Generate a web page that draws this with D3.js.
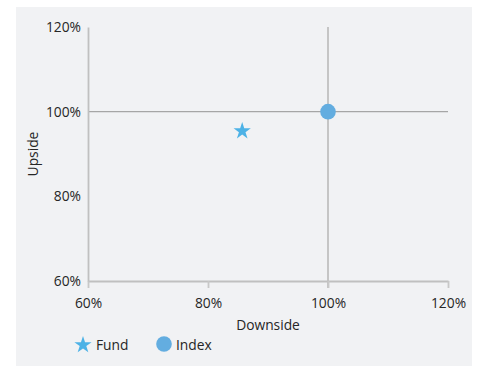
<!DOCTYPE html>
<html>
<head>
<meta charset="utf-8">
<script src="https://cdn.jsdelivr.net/npm/d3@7"></script>
<style>
html,body{margin:0;padding:0;background:#fff;}
svg{display:block;}
text{font-family:"Open Sans",sans-serif;fill:#262626;}
</style>
</head>
<body>
<script>
const seriesNames = ["Fund", "Index"];
const downside = [85.7, 100];
const upside = [95.4, 100];
const xTicks = [60, 80, 100, 120];
const yTicks = [60, 80, 100, 120];
const xTitle = "Downside";
const yTitle = "Upside";

const W = 478, H = 366;
const FS = 13.8;
const svg = d3.select("body").append("svg").attr("width", W).attr("height", H);

svg.append("rect").attr("x", 16).attr("y", 7).attr("width", 456).attr("height", 359).attr("fill", "#f1f2f4");

const x = d3.scaleLinear().domain([60, 120]).range([88, 448]);
const y = d3.scaleLinear().domain([60, 120]).range([281, 27]);

// reference lines at 100%
svg.append("line").attr("x1", x(60)).attr("x2", x(120)).attr("y1", y(100)).attr("y2", y(100))
  .attr("stroke", "#a6a6a6").attr("stroke-width", 1.2);
svg.append("line").attr("x1", x(100)).attr("x2", x(100)).attr("y1", y(120)).attr("y2", y(60) + 7)
  .attr("stroke", "#c0c0c0").attr("stroke-width", 1.8);

// x axis
const xAxis = d3.axisBottom(x).tickValues(xTicks).tickFormat(d => d + "%").tickSize(7).tickSizeOuter(0).tickPadding(10);
const gx = svg.append("g").attr("transform", `translate(0,${y(60)})`).call(xAxis);
gx.select(".domain").attr("stroke", "#c0c0c0").attr("stroke-width", 1.8);
gx.selectAll(".tick line").attr("stroke", "#c8c8c8").attr("stroke-width", 1.8);
gx.selectAll(".tick text").attr("font-size", FS).attr("fill", "#262626").attr("font-family", "Open Sans");

// y axis
const yAxis = d3.axisLeft(y).tickValues(yTicks).tickFormat(d => d + "%").tickSize(0).tickSizeOuter(0).tickPadding(7);
const gy = svg.append("g").attr("transform", `translate(${x(60)},0)`).call(yAxis);
gy.select(".domain").attr("stroke", "#c0c0c0").attr("stroke-width", 1.8);
gy.selectAll(".tick text").attr("font-size", FS).attr("fill", "#262626").attr("font-family", "Open Sans");

// titles
svg.append("text").attr("x", (x(60) + x(120)) / 2).attr("y", 330).attr("text-anchor", "middle")
  .attr("font-size", FS).text(xTitle);
svg.append("text").attr("transform", `translate(38,${(y(60) + y(120)) / 2}) rotate(-90)`)
  .attr("text-anchor", "middle").attr("font-size", FS).text(yTitle);

const colors = ["#4db2e6", "#63ade0"];
const star = d3.symbol().type(d3.symbolStar).size(92);

// points
svg.append("path").attr("d", star()).attr("fill", colors[0])
  .attr("transform", `translate(${x(downside[0])},${y(upside[0])})`);
svg.append("circle").attr("cx", x(downside[1])).attr("cy", y(upside[1])).attr("r", 7.8).attr("fill", colors[1]);

// legend
const lg = svg.append("g");
lg.append("path").attr("d", star()).attr("fill", colors[0]).attr("transform", "translate(83,345)");
lg.append("text").attr("x", 96).attr("y", 350).attr("font-size", FS).text(seriesNames[0]);
lg.append("circle").attr("cx", 164).attr("cy", 344).attr("r", 7.8).attr("fill", colors[1]);
lg.append("text").attr("x", 176).attr("y", 350).attr("font-size", FS).text(seriesNames[1]);
</script>
</body>
</html>
